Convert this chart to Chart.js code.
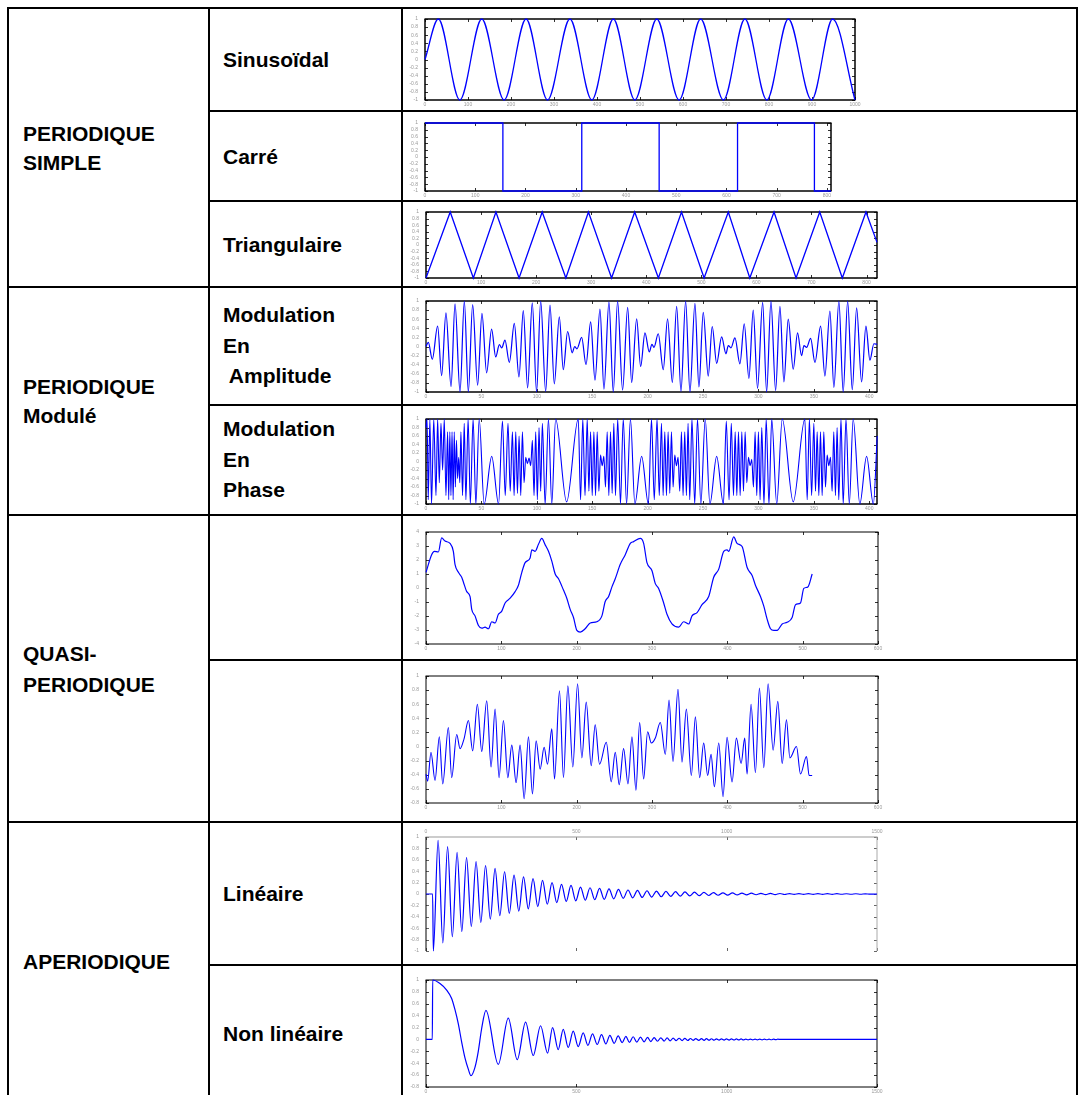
<!DOCTYPE html>
<html lang="fr">
<head>
<meta charset="utf-8">
<title>Classification des signaux</title>
<script src="https://cdn.jsdelivr.net/npm/chart.js@4.4.1/dist/chart.umd.min.js"></script>
<style>
  html, body { margin: 0; padding: 0; background: #fff; }
  body { width: 1079px; height: 1095px; overflow: hidden; position: relative;
         font-family: "Liberation Sans", Arial, sans-serif; }
  .trait { position: absolute; background: #000; }
  .cellule { position: absolute; display: flex; align-items: center; box-sizing: border-box;
             font-weight: bold; font-size: 21px; line-height: 29px; color: #000; }
  .c1 { left: 9px; width: 199px; padding-left: 14px; }
  .c2 { left: 210px; width: 191px; padding-left: 13px; }
  canvas { position: absolute; }
</style>
</head>
<body>
<!-- traits du tableau -->
<div class="trait" style="left:7px;top:7px;width:1071px;height:2px"></div>
<div class="trait" style="left:208px;top:110px;width:870px;height:2px"></div>
<div class="trait" style="left:208px;top:200px;width:870px;height:2px"></div>
<div class="trait" style="left:7px;top:286px;width:1071px;height:2px"></div>
<div class="trait" style="left:208px;top:404px;width:870px;height:2px"></div>
<div class="trait" style="left:7px;top:514px;width:1071px;height:2px"></div>
<div class="trait" style="left:208px;top:659px;width:870px;height:2px"></div>
<div class="trait" style="left:7px;top:821px;width:1071px;height:2px"></div>
<div class="trait" style="left:208px;top:964px;width:870px;height:2px"></div>
<div class="trait" style="left:7px;top:7px;width:2px;height:1095px"></div>
<div class="trait" style="left:208px;top:7px;width:2px;height:1095px"></div>
<div class="trait" style="left:401px;top:7px;width:2px;height:1095px"></div>
<div class="trait" style="left:1076px;top:7px;width:2px;height:1095px"></div>

<!-- textes -->
<div class="cellule c1" style="top:9px;height:277px"><div>PERIODIQUE<br>SIMPLE</div></div>
<div class="cellule c1" style="top:288px;height:226px"><div>PERIODIQUE<br>Modulé</div></div>
<div class="cellule c1" style="top:516px;height:305px;line-height:31px"><div>QUASI-<br>PERIODIQUE</div></div>
<div class="cellule c1" style="top:823px;height:277px"><div>APERIODIQUE</div></div>

<div class="cellule c2" style="top:9px;height:101px"><div>Sinusoïdal</div></div>
<div class="cellule c2" style="top:112px;height:88px"><div>Carré</div></div>
<div class="cellule c2" style="top:202px;height:84px"><div>Triangulaire</div></div>
<div class="cellule c2" style="top:288px;height:116px;line-height:30.5px"><div>Modulation<br>En<br>&nbsp;Amplitude</div></div>
<div class="cellule c2" style="top:406px;height:108px;line-height:30.5px"><div>Modulation<br>En<br>Phase</div></div>
<div class="cellule c2" style="top:823px;height:141px"><div>Linéaire</div></div>
<div class="cellule c2" style="top:966px;height:134px"><div>Non linéaire</div></div>

<script>
// ---------- graduations ----------
const gradY1 = [-1, -0.8, -0.6, -0.4, -0.2, 0, 0.2, 0.4, 0.6, 0.8, 1];
const gradY08 = [-0.8, -0.6, -0.4, -0.2, 0, 0.2, 0.4, 0.6, 0.8, 1];
const gradY4 = [-4, -3, -2, -1, 0, 1, 2, 3, 4];
const gradX1000 = [0, 100, 200, 300, 400, 500, 600, 700, 800, 900, 1000];
const gradX800 = [0, 100, 200, 300, 400, 500, 600, 700, 800];
const gradX400 = [0, 50, 100, 150, 200, 250, 300, 350, 400];
const gradX600 = [0, 100, 200, 300, 400, 500, 600];
const gradX1500 = [0, 500, 1000, 1500];

// ---------- signaux (extrema) ----------
const sinusTemps = [0, 31, 81, 132, 184, 235, 285, 337, 388, 438, 488, 539, 591, 641, 694, 744, 795, 845, 899, 948, 1000];
const sinusValeurs = [0, 1, -1, 1, -1, 1, -1, 1, -1, 1, -1, 1, -1, 1, -1, 1, -1, 1, -1, 1, -1];

const carreTemps = [0, 155, 312, 466, 622, 775, 808];
const carreValeurs = [1, -1, 1, -1, 1, -1, -1];

const triangleTemps = [0, 44, 86, 127, 169, 211, 254, 295, 337, 379, 422, 464, 505, 549, 588, 632, 672, 715, 756, 799, 819];
const triangleValeurs = [-1, 1, -1, 1, -1, 1, -1, 1, -1, 1, -1, 1, -1, 1, -1, 1, -1, 1, -1, 1, 0.08];

const amTemps = [0, 2.1, 5.7, 10.5, 14.1, 18.0, 22.6, 26.2, 30.7, 34.6,
  38.2, 42.1, 46.6, 50.5, 54.7, 59.2, 62.9, 66.2, 68.3, 71.3,
  75.2, 79.7, 83.9, 87.8, 91.7, 95.9, 99.8, 103.5, 108.0, 111.9,
  115.8, 120.3, 123.9, 127.8, 132.0, 134.1, 136.2, 140.5, 144.4, 148.6,
  152.5, 157.0, 160.6, 165.1, 169.0, 172.9, 177.4, 182.0, 185.6, 190.1,
  193.7, 197.6, 201.5, 203.9, 205.7, 209.6, 214.1, 218.0, 222.3, 226.2,
  230.1, 234.3, 238.2, 242.7, 246.3, 250.2, 254.7, 258.3, 262.3, 266.8,
  270.7, 272.8, 275.2, 278.8, 283.3, 287.2, 291.4, 295.3, 299.2, 303.8,
  307.4, 311.3, 315.5, 319.4, 323.0, 326.9, 331.4, 335.3, 338.9, 341.1,
  343.5, 347.1, 351.0, 356.1, 360.0, 364.5, 368.1, 372.6, 376.5, 380.5,
  384.7, 388.6, 393.1, 397.0, 400.6, 404.2, 407.2];
const amValeurs = [0.0, 0.09, -0.28, 0.45, -0.64, 0.74, -0.88, 0.94, -1, 1,
  -1, 0.92, -0.85, 0.73, -0.58, 0.38, -0.23, 0.04, -0.03, 0.14,
  -0.35, 0.51, -0.67, 0.79, -0.91, 0.96, -1, 1, -0.99, 0.91,
  -0.82, 0.65, -0.51, 0.33, -0.14, 0.0, -0.05, 0.2, -0.4, 0.54,
  -0.74, 0.82, -0.94, 0.98, -1, 1, -0.96, 0.86, -0.79, 0.61,
  -0.44, 0.3, -0.12, 0.05, -0.02, 0.28, -0.51, 0.61, -0.79, 0.88,
  -0.99, 1, -1, 0.95, -0.89, 0.75, -0.65, 0.44, -0.37, 0.21,
  -0.16, 0.02, -0.03, 0.19, -0.38, 0.5, -0.7, 0.8, -0.92, 0.97,
  -1, 1, -0.97, 0.88, -0.78, 0.6, -0.5, 0.3, -0.2, 0.02,
  -0.02, 0.18, -0.35, 0.45, -0.65, 0.78, -0.9, 1, -1, 1,
  -0.95, 0.85, -0.78, 0.45, -0.3, 0.06, 0.05];

const pmTemps = [0, 1, 2, 3.5, 5, 7, 9, 10.5, 12, 13.5, 15, 16.5, 18, 19.5, 20.5, 21.5, 22.5, 23.5, 24.5, 25.5,
  26.5, 27.5, 28.5, 29.5, 30.5, 31.5, 33, 34.5, 36, 38, 40, 42.5, 45, 48, 52.5, 59.3, 65.5,
  69, 71.5, 74, 76, 78, 79.5, 81, 82.5, 84, 85.5, 87, 88.5, 90, 91.5, 93, 94.5, 96, 97.5, 99, 100.5,
  102, 103.5, 105, 107.5, 110.5, 113.5, 117, 126.9, 137.4,
  139.5, 141.5, 143.5, 145.5, 147, 148.5, 150, 151.5, 153, 154.5, 156, 157.5, 159, 160.5, 162, 163.5,
  165, 166.5, 168, 169.5, 171, 173, 175.5, 178, 181, 184.5, 188.5, 194.6, 200.7,
  203.5, 206, 208.5, 210.5, 212.5, 214, 215.5, 217, 218.5, 220, 221.5, 223, 224.5, 226, 227.5, 229,
  230.5, 232, 233.5, 235, 236.5, 238, 240, 242.5, 245, 248, 252, 256.2, 262.3, 268.4,
  271, 273.5, 275.5, 277.5, 279, 280.5, 282, 283.5, 285, 286.5, 288, 289.5, 291, 292.5, 294, 295.5,
  297, 298.5, 300, 301.5, 303, 305, 307, 309.5, 312, 316.5, 321.5, 331.4, 341.9,
  344, 346, 348, 350, 351.5, 353, 354.5, 356, 357.5, 359, 360.5, 362, 363.5, 365, 366.5, 368,
  369.5, 371, 372.5, 374.5, 376.5, 379, 382, 385.5, 391.5, 397.6, 403.7, 407.2];
const pmValeurs = [0.8, 1, -0.9, 1, -1, 1, -0.8, 1, -0.5, 0.9, -0.2, 1, -0.8, 0.7, -0.9, 0.7, -0.8, 0.7, -0.9, 0.7,
  -0.6, 0.5, -0.4, 0.1, -0.5, 0.7, -0.8, 0.9, -0.9, 1, -1, 1, -1, 1, -1, 0.12, -1,
  0.95, -0.8, 0.9, -0.7, 0.7, -0.8, 0.7, -0.75, 0.6, -0.8, 0.7, -0.5, 0.1, -0.05, 0.08, -0.1, 0.5, -0.8, 0.7, -0.9,
  0.8, -0.7, 0.9, -1, 1, -1, 1, -0.95, 1,
  -0.9, 1, -0.8, 1, -0.7, 0.7, -0.8, 0.7, -0.8, 0.7, -0.7, 0.15, -0.1, 0.12, -0.6, 0.7,
  -0.8, 0.7, -0.75, 0.9, -0.8, 1, -1, 1, -1, 1, -1, 0.12, -1,
  1, -0.9, 1, -0.8, 0.9, -0.8, 0.7, -0.8, 0.7, -0.75, 0.7, -0.6, 0.15, -0.1, 0.1, -0.7,
  0.7, -0.8, 0.7, -0.8, 0.9, -0.9, 1, -1, 1, -1, 1, -1, 0.12, -1,
  0.95, -0.9, 0.9, -0.8, 0.7, -0.8, 0.7, -0.8, 0.7, -0.7, 0.7, -0.5, 0.1, -0.1, 0.05, -0.6,
  0.7, -0.8, 0.7, -0.9, 0.8, -1, 1, -1, 1, -1, 1, -0.95, 1,
  -0.9, 1, -0.8, 0.9, -0.7, 0.7, -0.8, 0.7, -0.8, 0.7, -0.6, 0.15, -0.1, 0.1, -0.7, 0.7,
  -0.8, 0.8, -0.9, 1, -1, 1, -1, 1, -1, 0.12, -1, 0.6];

const quasi1Temps = [0, 7.5, 11.1, 16.4, 20.8, 25.3, 31.9, 36.3, 38.5, 43.0,
  47.4, 49.6, 54.1, 58.5, 60.7, 65.1, 69.6, 74.0, 78.4, 82.9,
  87.3, 91.7, 96.1, 100.6, 105.0, 111.7, 118.3, 122.7, 127.2, 131.6,
  138.2, 140.5, 144.9, 149.3, 153.7, 158.2, 162.6, 167.0, 171.5, 175.9,
  182.5, 186.9, 191.4, 195.8, 200.3, 204.7, 211.3, 218.0, 226.8, 233.5,
  237.9, 242.4, 246.8, 251.2, 257.9, 264.5, 271.2, 275.6, 284.4, 288.9,
  293.3, 300.0, 304.4, 308.8, 315.5, 319.9, 326.5, 335.4, 342.0, 348.7,
  353.1, 359.8, 366.4, 375.3, 381.9, 388.6, 395.2, 399.6, 401.9, 408.5,
  412.9, 419.6, 426.3, 432.9, 437.3, 444.0, 448.4, 452.8, 457.3, 461.7,
  466.1, 472.8, 479.4, 486.0, 490.5, 497.1, 501.5, 506.9, 512.6];
const quasi1Valeurs = [1.12, 2.38, 2.62, 2.57, 3.58, 3.35, 3.19, 2.62, 1.69, 1.12,
  0.77, 0.43, -0.26, -0.61, -1.53, -1.99, -2.68, -2.87, -2.80, -2.91,
  -2.41, -2.50, -1.88, -1.65, -1.07, -0.73, -0.26, 0.20, 1.12, 1.81,
  2.15, 2.73, 2.62, 3.12, 3.54, 3.08, 2.62, 1.92, 1.00, 0.66,
  -0.15, -0.73, -1.53, -2.11, -3.03, -3.15, -2.91, -2.50, -2.41, -1.99,
  -0.96, -0.61, 0.08, 0.66, 1.69, 2.38, 3.19, 3.31, 3.54, 3.19,
  1.81, 1.23, 0.31, -0.03, -1.07, -1.88, -2.57, -2.80, -2.41, -2.57,
  -1.99, -1.76, -1.19, -0.61, 0.77, 1.35, 2.62, 2.73, 2.62, 3.65,
  3.19, 2.96, 1.46, 0.89, 0.20, -0.61, -1.30, -2.22, -2.91, -3.03,
  -3.03, -2.57, -2.45, -2.11, -1.19, -1.07, -0.03, 0.08, 1.00];

const quasi2Temps = [0, 2.2, 6.6, 12.0, 17.7, 22.2, 29.7, 34.1, 40.8, 45.2,
  50.5, 56.3, 62.0, 68.2, 74.0, 80.6, 86.4, 91.7, 97.0, 102.8,
  108.6, 113.9, 119.6, 124.9, 130.3, 136.0, 141.3, 146.2, 151.5, 156.8,
  161.3, 167.0, 170.6, 177.2, 182.5, 188.3, 194.9, 201.2, 206.9, 212.7,
  219.3, 224.6, 230.4, 239.3, 245.9, 251.2, 256.5, 262.3, 268.1, 273.4,
  278.7, 283.6, 288.9, 294.2, 299.1, 304.4, 311.0, 317.7, 322.6, 327.9,
  334.5, 339.8, 345.6, 352.2, 357.6, 363.3, 368.6, 373.9, 378.4, 382.8,
  388.6, 394.3, 399.6, 406.3, 412.0, 418.3, 423.1, 426.2, 431.5, 437.3,
  442.6, 448.4, 454.1, 460.8, 467.0, 472.8, 478.5, 483.0, 491.8, 497.1,
  505.1, 508.6, 512.6];
const quasi2Valeurs = [-0.39, -0.49, -0.08, -0.48, 0.14, -0.53, 0.27, -0.44, 0.17, -0.03,
  0.11, 0.37, -0.06, 0.60, -0.07, 0.65, -0.29, 0.53, -0.44, 0.37,
  -0.44, 0.02, -0.51, 0.02, -0.74, 0.14, -0.67, 0.08, -0.32, -0.01,
  -0.25, 0.25, -0.46, 0.79, -0.44, 0.86, -0.29, 0.89, -0.16, 0.63,
  -0.27, 0.31, -0.25, 0.06, -0.50, -0.08, -0.54, -0.03, -0.53, 0.14,
  -0.62, 0.34, -0.46, 0.21, 0.05, 0.12, 0.34, -0.11, 0.66, -0.21,
  0.81, -0.22, 0.53, -0.41, 0.42, -0.44, 0.05, -0.41, -0.11, -0.57,
  0.05, -0.71, 0.13, -0.50, 0.12, -0.24, 0.12, -0.39, 0.60, -0.37,
  0.83, -0.30, 0.89, -0.05, 0.64, -0.24, 0.38, -0.16, 0.0, -0.39,
  -0.14, -0.41, -0.41];

const lineaireTemps = [0, 22, 24.4, 40.2, 56.0, 71.8, 87.6, 103.4, 119.1, 134.9,
  150.7, 166.5, 182.3, 198.1, 213.9, 229.7, 245.5, 261.3, 277.0, 292.8,
  308.6, 324.4, 340.2, 356.0, 371.8, 387.6, 403.4, 419.2, 434.9, 450.7,
  466.5, 482.3, 498.1, 513.9, 529.7, 545.5, 561.3, 577.1, 592.8, 608.6,
  624.4, 640.2, 656.0, 671.8, 687.6, 703.4, 719.2, 735.0, 750.7, 766.5,
  782.3, 798.1, 813.9, 829.7, 845.5, 861.3, 877.1, 892.9, 908.6, 924.4,
  940.2, 956.0, 971.8, 987.6, 1003.4, 1019.2, 1035.0, 1050.8, 1066.5, 1082.3,
  1098.1, 1113.9, 1129.7, 1145.5, 1161.3, 1177.1, 1192.9, 1208.7, 1224.4, 1240.2,
  1256.0, 1271.8, 1287.6, 1303.4, 1319.2, 1335.0, 1350.8, 1366.6, 1382.3, 1398.1,
  1413.9, 1429.7, 1445.5, 1461.3, 1477.1, 1500];
const lineaireValeurs = [0, 0, -1, 0.94, -0.86, 0.83, -0.75, 0.73, -0.66, 0.64,
  -0.57, 0.57, -0.50, 0.50, -0.44, 0.45, -0.38, 0.39, -0.34, 0.33,
  -0.30, 0.30, -0.26, 0.27, -0.22, 0.24, -0.18, 0.20, -0.15, 0.17,
  -0.13, 0.15, -0.12, 0.12, -0.11, 0.11, -0.10, 0.10, -0.095, 0.09,
  -0.085, 0.08, -0.075, 0.07, -0.067, 0.064, -0.06, 0.057, -0.054, 0.051,
  -0.048, 0.045, -0.043, 0.04, -0.038, 0.036, -0.034, 0.032, -0.03, 0.028,
  -0.026, 0.024, -0.022, 0.021, -0.02, 0.018, -0.017, 0.016, -0.015, 0.014,
  -0.013, 0.012, -0.011, 0.01, -0.01, 0.009, -0.009, 0.008, -0.008, 0.007,
  -0.007, 0.006, -0.006, 0.006, -0.005, 0.005, -0.005, 0.005, -0.004, 0.004,
  -0.004, 0.004, -0.004, 0.003, -0.003, 0];

const nonLineaireTemps = [0, 21, 22.2, 46.5, 68.7, 85.3, 96.4, 107.5, 118.5, 129.6,
  140.7, 149.6, 162.8, 173.9, 185, 199.4, 240.4, 273.6, 303.5, 331.2,
  356.7, 381.1, 404.3, 421, 439.8, 456.4, 473, 489.6, 506.3, 522.9,
  538.4, 553.9, 569.4, 583.8, 598.2, 611.5, 625.9, 639.2, 652.5, 664.7,
  676.9, 689, 701.2, 713.4, 725.6, 736.7, 747.8, 758.8, 769.9, 781,
  792.1, 802, 812, 822, 832, 841.9, 851.9, 860.8, 870.7, 879.6,
  888.4, 897.3, 907.3, 916.2, 925, 932.8, 941.6, 949.4, 958.2, 966,
  974.9, 982.6, 991.5, 999.2, 1008.1, 1015.8, 1024.7, 1032.5, 1040.2, 1048,
  1055.7, 1063.5, 1071.2, 1079, 1086.7, 1094.5, 1102.2, 1110, 1117.7, 1125.5,
  1133.3, 1141, 1148.8, 1155.4, 1163.2, 1169.8, 1180, 1500];
const nonLineaireValeurs = [0, 0, 1, 0.94, 0.83, 0.69, 0.5, 0.26, -0.04, -0.31,
  -0.5, -0.61, -0.47, -0.2, 0.18, 0.49, -0.42, 0.36, -0.34, 0.29,
  -0.27, 0.23, -0.23, 0.2, -0.17, 0.17, -0.135, 0.14, -0.12, 0.11,
  -0.1, 0.095, -0.085, 0.08, -0.075, 0.07, -0.065, 0.06, -0.055, 0.05,
  -0.05, 0.045, -0.045, 0.04, -0.04, 0.035, -0.035, 0.032, -0.03, 0.028,
  -0.027, 0.025, -0.024, 0.022, -0.021, 0.02, -0.019, 0.018, -0.017, 0.016,
  -0.016, 0.015, -0.015, 0.014, -0.014, 0.013, -0.013, 0.012, -0.012, 0.011,
  -0.011, 0.01, -0.01, 0.01, -0.01, 0.009, -0.009, 0.008, -0.008, 0.008,
  -0.008, 0.007, -0.007, 0.007, -0.007, 0.006, -0.006, 0.006, -0.006, 0.005,
  -0.005, 0.005, -0.005, 0.005, -0.004, 0.004, 0, 0];

// cadre + petites graduations tournées vers l'intérieur
const cadrePlugin = {
  id: 'cadre',
  beforeDatasetsDraw(chart, args, opts) {
    const { ctx, chartArea: a } = chart;
    const sx = chart.scales.x, sy = chart.scales.y;
    const L = 3;
    ctx.save();
    ctx.lineWidth = 1;
    ctx.strokeStyle = opts.couleurTicks || '#333';
    ctx.beginPath();
    sx.ticks.forEach(t => {
      const p = Math.round(sx.getPixelForValue(t.value)) + 0.5;
      ctx.moveTo(p, a.top); ctx.lineTo(p, a.top + L);
      ctx.moveTo(p, a.bottom); ctx.lineTo(p, a.bottom - L);
    });
    sy.ticks.forEach(t => {
      const p = Math.round(sy.getPixelForValue(t.value)) + 0.5;
      ctx.moveTo(a.left, p); ctx.lineTo(a.left + L, p);
      ctx.moveTo(a.right, p); ctx.lineTo(a.right - L, p);
    });
    ctx.stroke();
    ctx.lineWidth = opts.epaisseur || 1;
    const cote = (c, x1, y1, x2, y2) => {
      if (!c) return;
      ctx.strokeStyle = c;
      ctx.beginPath(); ctx.moveTo(x1, y1); ctx.lineTo(x2, y2); ctx.stroke();
    };
    cote(opts.haut, a.left - 0.5, a.top, a.right + 0.5, a.top);
    cote(opts.bas, a.left - 0.5, a.bottom, a.right + 0.5, a.bottom);
    cote(opts.gauche, a.left, a.top, a.left, a.bottom);
    cote(opts.droite, a.right, a.top, a.right, a.bottom);
    ctx.restore();
  }
};

const policeTicks = { family: 'Liberation Sans', size: 5 };
const couleurLabels = '#999';

function tracer(boite, temps, valeurs, xMax, gradX, yMin, yMax, gradY, reglages) {
  const [x0, y0, x1, y1] = boite;
  const enHaut = !!reglages.axeEnHaut;
  const mg = 18, md = 8;
  const mh = enHaut ? 10 : 6, mb = enHaut ? 6 : 12;
  const cv = document.createElement('canvas');
  cv.width = x1 - x0 + mg + md;
  cv.height = y1 - y0 + mh + mb;
  cv.style.left = (x0 - mg) + 'px';
  cv.style.top = (y0 - mh) + 'px';
  document.body.appendChild(cv);

  new Chart(cv, {
    type: 'line',
    data: {
      datasets: [{
        data: temps.map((t, i) => ({ x: t, y: valeurs[i] })),
        borderColor: '#0000ff',
        borderWidth: reglages.largeur || 1.2,
        pointRadius: 0,
        fill: false,
        stepped: reglages.marches || false,
        cubicInterpolationMode: reglages.marches || reglages.droit ? 'default' : 'monotone',
        tension: 0,
        clip: 3
      }]
    },
    options: {
      responsive: false,
      animation: false,
      devicePixelRatio: 1,
      events: [],
      layout: { padding: { left: 0, right: md, top: enHaut ? 0 : mh, bottom: enHaut ? mb : 0 } },
      plugins: {
        legend: { display: false },
        tooltip: { enabled: false },
        cadre: reglages.cadre
      },
      scales: {
        x: {
          type: 'linear',
          position: enHaut ? 'top' : 'bottom',
          min: 0, max: xMax,
          grid: { display: false, drawTicks: false },
          border: { display: false },
          afterBuildTicks: s => { s.ticks = gradX.map(v => ({ value: v })); },
          afterFit: s => { s.height = enHaut ? mh : mb; },
          ticks: { font: policeTicks, color: couleurLabels, padding: 2, maxRotation: 0, autoSkip: false,
                   callback: v => String(v) }
        },
        y: {
          type: 'linear',
          min: yMin, max: yMax,
          grid: { display: false, drawTicks: false },
          border: { display: false },
          afterBuildTicks: s => { s.ticks = gradY.map(v => ({ value: v })); },
          afterFit: s => { s.width = mg; },
          ticks: { font: policeTicks, color: couleurLabels, padding: 7, autoSkip: false,
                   callback: v => String(v) }
        }
      }
    },
    plugins: [cadrePlugin]
  });
}

const noir = { haut: '#000', bas: '#000', gauche: '#000', droite: '#000' };

tracer([425, 15, 855, 100], sinusTemps, sinusValeurs, 1000, gradX1000, -1, 1, gradY1,
  { largeur: 1.3, cadre: Object.assign({ epaisseur: 1.5 }, noir) });
tracer([425, 119, 831, 191], carreTemps, carreValeurs, 808, gradX800, -1, 1, gradY1,
  { largeur: 1.3, marches: true, cadre: Object.assign({ epaisseur: 1.5 }, noir) });
tracer([426, 208, 877, 278], triangleTemps, triangleValeurs, 819, gradX800, -1, 1, gradY1,
  { largeur: 1.3, droit: true, cadre: Object.assign({ epaisseur: 1.5 }, noir) });
tracer([426, 297, 877, 392], amTemps, amValeurs, 407, gradX400, -1, 1, gradY1,
  { largeur: 1.2, cadre: Object.assign({ epaisseur: 1.3 }, noir) });
tracer([426, 415, 877, 504], pmTemps, pmValeurs, 407, gradX400, -1, 1, gradY1,
  { largeur: 1.1, cadre: Object.assign({ epaisseur: 1.5 }, noir) });
tracer([426, 528, 878, 644], quasi1Temps, quasi1Valeurs, 600, gradX600, -4, 4, gradY4,
  { largeur: 1.2, cadre: Object.assign({ epaisseur: 1 }, noir) });
tracer([426, 672, 878, 803], quasi2Temps, quasi2Valeurs, 600, gradX600, -0.8, 1, gradY08,
  { largeur: 1.1, cadre: Object.assign({ epaisseur: 1 }, noir) });
tracer([426, 837, 877, 955], lineaireTemps, lineaireValeurs, 1500, gradX1500, -1, 1, gradY1,
  { largeur: 1.2, axeEnHaut: true,
    cadre: { epaisseur: 1, haut: '#999', bas: null, gauche: '#000', droite: '#aaa', couleurTicks: '#666' } });
tracer([426, 976, 877, 1087], nonLineaireTemps, nonLineaireValeurs, 1500, gradX1500, -0.8, 1, gradY08,
  { largeur: 1.2, cadre: Object.assign({ epaisseur: 1 }, noir) });
</script>
</body>
</html>
